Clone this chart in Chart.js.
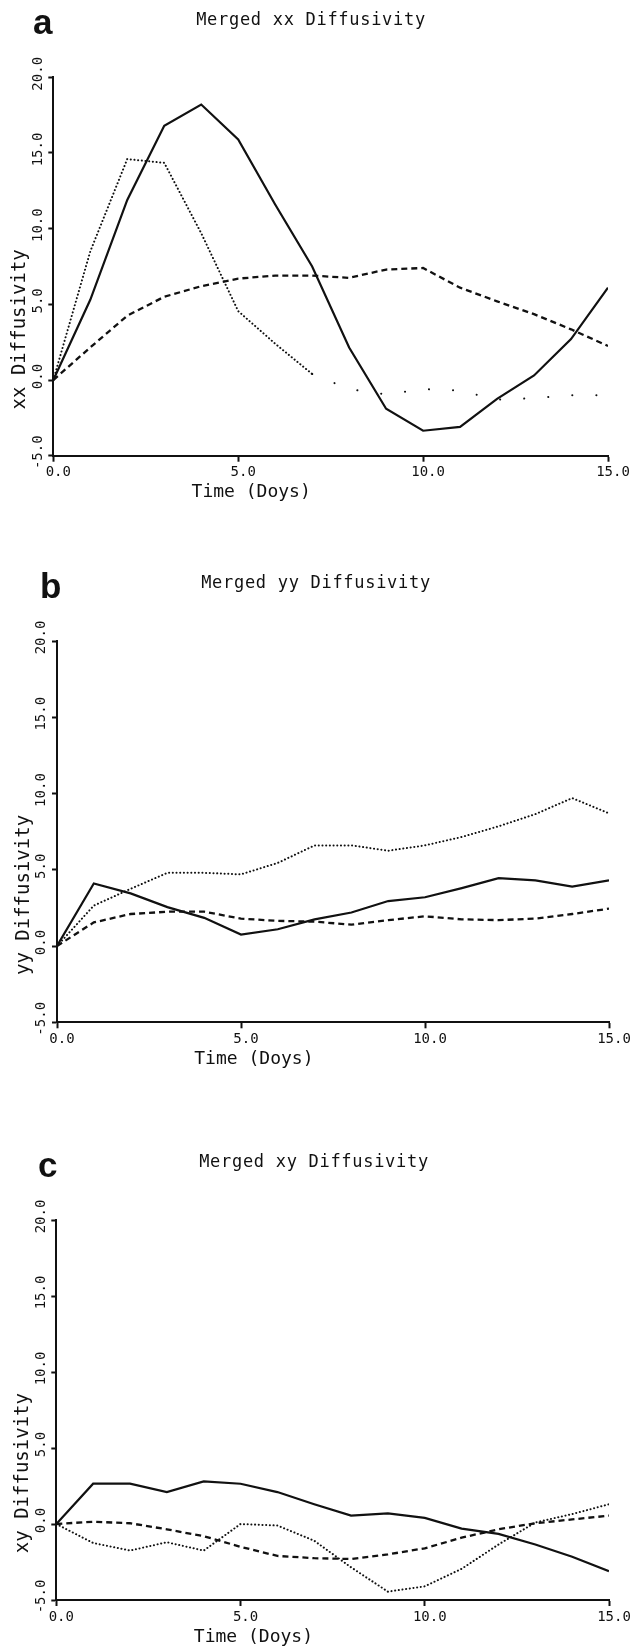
<!DOCTYPE html>
<html>
<head>
<meta charset="utf-8">
<title>Merged Diffusivity</title>
<script src="https://cdn.jsdelivr.net/npm/chart.js@4.4.1/dist/chart.umd.min.js"></script>
<style>
  html, body { margin: 0; padding: 0; background: #fff; }
  body { width: 630px; height: 1649px; position: relative; overflow: hidden; }
  canvas { position: absolute; left: 0; }
</style>
</head>
<body>
<canvas id="chart-a" width="630" height="520" style="top:0"></canvas>
<canvas id="chart-b" width="630" height="555" style="top:520px"></canvas>
<canvas id="chart-c" width="630" height="574" style="top:1075px"></canvas>
<script>
// Merged diffusivity curves, three panels (xx, yy, xy)

const days = [0, 1, 2, 3, 4, 5, 6, 7, 8, 9, 10, 11, 12, 13, 14, 15];
const xTicks = [0, 5, 10, 15];
const xTickLabels = ['0.0', '5.0', '10.0', '15.0'];
const yTicks = [-5, 0, 5, 10, 15, 20];
const yTickLabels = ['-5.0', '0.0', '5.0', '10.0', '15.0', '20.0'];

// panel a: xx
const xxSolid = [0, 5.3, 11.9, 16.8, 18.2, 15.9, 11.6, 7.5, 2.15, -1.9, -3.35, -3.1, -1.25, 0.3, 2.7, 6.1];
const xxDashed = [0, 2.15, 4.25, 5.5, 6.2, 6.7, 6.9, 6.9, 6.75, 7.3, 7.4, 6.1, 5.2, 4.35, 3.35, 2.25];
const xxDotted = [0, 8.5, 14.6, 14.35, 9.7, 4.55, 2.4, 0.4, -0.6, -0.95, -0.6, -0.7, -1.3, -1.2, -1.0, -1.0];

// panel b: yy
const yySolid = [0, 4.1, 3.45, 2.55, 1.85, 0.75, 1.1, 1.75, 2.2, 2.95, 3.2, 3.8, 4.45, 4.3, 3.9, 4.3];
const yyDashed = [0, 1.55, 2.1, 2.25, 2.25, 1.8, 1.65, 1.6, 1.4, 1.7, 1.95, 1.75, 1.7, 1.8, 2.1, 2.45];
const yyDotted = [0, 2.65, 3.75, 4.8, 4.8, 4.7, 5.45, 6.6, 6.6, 6.25, 6.6, 7.15, 7.85, 8.65, 9.7, 8.7];

// panel c: xy
const xySolid = [0, 2.65, 2.65, 2.1, 2.8, 2.65, 2.1, 1.3, 0.55, 0.7, 0.4, -0.3, -0.65, -1.35, -2.15, -3.1];
const xyDashed = [0, 0.15, 0.05, -0.35, -0.8, -1.5, -2.1, -2.25, -2.3, -2.0, -1.6, -0.9, -0.35, 0.05, 0.3, 0.55];
const xyDotted = [0, -1.25, -1.75, -1.2, -1.75, 0.0, -0.1, -1.1, -2.85, -4.45, -4.1, -2.95, -1.35, 0.1, 0.65, 1.3];

const xTitleText = 'Time (Doys)';
const xTitleAt = 5.35;   // x value the axis title is centred on
const yTitleAt = 3.35;   // y value the axis title is centred on

const ink = '#111';
const mono = '"DejaVu Sans Mono", monospace';

// letter, title and axis titles drawn relative to the chart area
const panelText = {
  id: 'panelText',
  afterDraw(chart, args, opts) {
    const { ctx, chartArea: a, scales: { x, y } } = chart;
    ctx.save();
    ctx.fillStyle = ink;

    ctx.font = 'bold 35px "Liberation Sans", Arial, sans-serif';
    ctx.textAlign = 'left';
    ctx.textBaseline = 'alphabetic';
    ctx.fillText(opts.letter, opts.letterX, a.top - 43);

    ctx.font = '17px ' + mono;
    ctx.letterSpacing = '0.7px';
    ctx.textAlign = 'center';
    ctx.textBaseline = 'middle';
    ctx.fillText(opts.title, opts.titleX, a.top - 57);
    ctx.letterSpacing = '0px';

    ctx.font = '18px ' + mono;
    ctx.fillText(xTitleText, x.getPixelForValue(xTitleAt), a.bottom + 37);

    ctx.translate(a.left - 33, y.getPixelForValue(yTitleAt));
    ctx.rotate(-Math.PI / 2);
    ctx.font = '19px ' + mono;
    ctx.fillText(opts.yTitle, 0, 0);
    ctx.restore();
  }
};

function series(values, kind, sparseFrom) {
  const ds = {
    data: days.map((d, i) => ({ x: d, y: values[i] })),
    borderColor: ink,
    pointRadius: 0,
    tension: 0,
    fill: false
  };
  if (kind === 'solid') {
    ds.borderWidth = 2.2;
  } else if (kind === 'dashed') {
    ds.borderWidth = 2.3;
    ds.borderDash = [6, 4];
  } else {
    ds.borderWidth = 2;
    ds.borderCapStyle = 'round';
    ds.borderDash = [0.1, 3.6];
    if (sparseFrom != null) {
      // the tail of the dotted curve is barely printed
      ds.segment = { borderDash: c => c.p0DataIndex >= sparseFrom ? [0.1, 24] : undefined };
    }
  }
  return ds;
}

function makePanel(id, canvasTop, height, area, text, sets) {
  const xAxisH = 40;
  const ctx = document.getElementById(id).getContext('2d');
  return new Chart(ctx, {
    type: 'line',
    data: { datasets: sets },
    options: {
      responsive: false,
      animation: false,
      devicePixelRatio: 1,
      layout: {
        padding: {
          left: 0,
          top: area.top - canvasTop,
          right: 630 - area.right,
          bottom: canvasTop + height - area.bottom - xAxisH
        }
      },
      plugins: {
        legend: { display: false },
        tooltip: { enabled: false },
        panelText: text
      },
      scales: {
        x: {
          type: 'linear', min: 0, max: 15,
          afterBuildTicks: s => { s.ticks = xTicks.map(v => ({ value: v })); },
          afterFit: s => { s.height = xAxisH; },
          grid: { drawOnChartArea: false, drawTicks: true, tickLength: 6, tickColor: ink, tickWidth: 2 },
          border: { display: true, color: ink, width: 2 },
          ticks: {
            color: ink, font: { family: mono, size: 14 }, padding: 2.5, labelOffset: 5,
            maxRotation: 0, autoSkip: false,
            callback: v => xTickLabels[xTicks.indexOf(v)]
          }
        },
        y: {
          type: 'linear', min: -5, max: 20,
          afterBuildTicks: s => { s.ticks = yTicks.map(v => ({ value: v })); },
          afterFit: s => { s.width = area.left; },
          grid: { drawOnChartArea: false, drawTicks: true, tickLength: 5, tickColor: ink, tickWidth: 2 },
          border: { display: true, color: ink, width: 2 },
          ticks: {
            color: ink, font: { family: mono, size: 14 }, padding: -6.5, labelOffset: -3.5,
            minRotation: 90, maxRotation: 90, crossAlign: 'center', autoSkip: false,
            callback: v => yTickLabels[yTicks.indexOf(v)]
          }
        }
      }
    },
    plugins: [panelText]
  });
}

makePanel('chart-a', 0, 520,
  { left: 53.3, right: 608, top: 77.3, bottom: 455.7 },
  { letter: 'a', letterX: 33, titleX: 311, title: 'Merged xx Diffusivity', yTitle: 'xx Diffusivity' },
  [series(xxSolid, 'solid'), series(xxDashed, 'dashed'), series(xxDotted, 'dotted', 7)]);

makePanel('chart-b', 520, 555,
  { left: 57, right: 609, top: 641, bottom: 1022.3 },
  { letter: 'b', letterX: 40, titleX: 316, title: 'Merged yy Diffusivity', yTitle: 'yy Diffusivity' },
  [series(yySolid, 'solid'), series(yyDashed, 'dashed'), series(yyDotted, 'dotted')]);

makePanel('chart-c', 1075, 574,
  { left: 56.3, right: 609, top: 1220, bottom: 1600 },
  { letter: 'c', letterX: 38, titleX: 314, title: 'Merged xy Diffusivity', yTitle: 'xy Diffusivity' },
  [series(xySolid, 'solid'), series(xyDashed, 'dashed'), series(xyDotted, 'dotted')]);
</script>
</body>
</html>
